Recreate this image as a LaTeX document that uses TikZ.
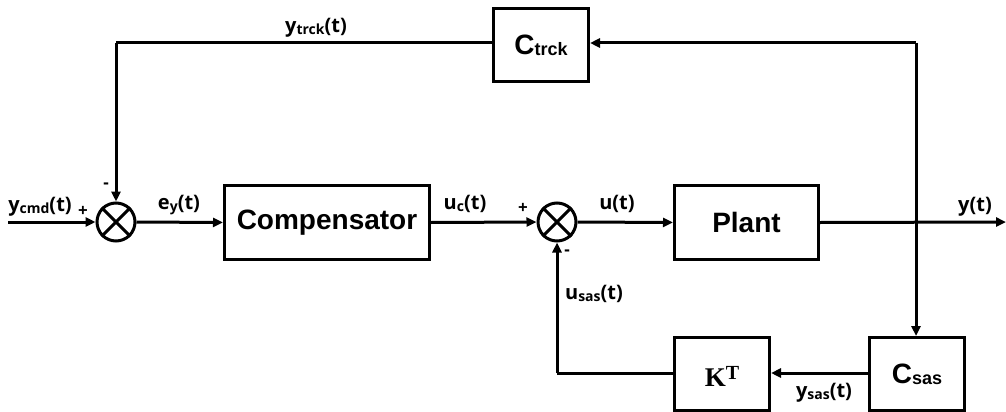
\documentclass[tikz,border=0pt]{standalone}
\usepackage{fontspec}
\usetikzlibrary{arrows.meta}
\newfontfamily\labfont{Open Sans}[UprightFont=* Bold]
\newfontfamily\boxfont{Liberation Sans}[UprightFont=* Bold]
\newfontfamily\serfont{Liberation Serif}[UprightFont=* Bold]
\newcommand{\lbl}[2]{{\labfont\fontsize{20}{22}\selectfont #1{\fontsize{14}{14}\selectfont\raisebox{-1.5pt}{#2}}(t)}}
\newcommand{\bxs}[2]{{\boxfont\fontsize{28}{30}\selectfont #1{\fontsize{18}{18}\selectfont\raisebox{-1pt}{#2}}}}
\tikzset{
  blk/.style={draw, line width=3pt, rectangle, inner sep=0pt, anchor=north west},
  sumj/.style={draw, line width=3pt, circle, minimum size=38pt, inner sep=0pt},
  wire/.style={line width=3pt},
  arw/.style={line width=3pt, -{Triangle[length=10pt,width=9pt]}},
  sgn/.style={font=\labfont\fontsize{17}{17}\selectfont, inner sep=0pt},
  lab/.style={inner sep=0pt}
}
\begin{document}
\begin{tikzpicture}[x=1pt,y=-1pt]
\useasboundingbox (0,0) rectangle (1006,412);
% blocks
\node[blk, minimum width=205pt, minimum height=74pt] (comp) at (223,184) {};
\node[font=\boxfont\fontsize{28}{30}\selectfont] at (comp.center) {Compensator};
\node[blk, minimum width=144pt, minimum height=74pt] (plant) at (673,184) {};
\node[font=\boxfont\fontsize{28}{30}\selectfont] at (plant.center) {Plant};
\node[blk, minimum width=95pt, minimum height=73pt] (ctrck) at (492,7) {};
\node at (ctrck.center) {\bxs{C}{trck}};
\node[blk, minimum width=95pt, minimum height=73pt] (kt) at (673,336) {};
\node at ([yshift=-2pt]kt.center) {\serfont\fontsize{27}{28}\selectfont K\raisebox{7pt}{\fontsize{20}{20}\selectfont T}};
\node[blk, minimum width=95pt, minimum height=73pt] (csas) at (868,336) {};
\node at (csas.center) {\bxs{C}{sas}};
% summing junctions
\node[sumj] (s1) at (116,222) {};
\draw[wire] (s1.north east) -- (s1.south west) (s1.north west) -- (s1.south east);
\node[sumj] (s2) at (557,222) {};
\draw[wire] (s2.north east) -- (s2.south west) (s2.north west) -- (s2.south east);
% coordinates
\coordinate (in) at (8,222);
\coordinate (out) at (1006,222);
\coordinate (tr) at (916,43);
\coordinate (tl) at (116,43);
\coordinate (bl) at (557,373);
% connectors
\draw[arw] (in) -- (s1.west);
\draw[arw] (s1.east) -- (comp.west);
\draw[arw] (comp.east) -- (s2.west);
\draw[arw] (s2.east) -- (plant.west);
\draw[arw] (plant.east) -- (out);
\draw[wire] (tr) -- (tr |- s1);
\draw[arw] (tr) -- (csas.north -| tr);
\draw[arw] (tr) -- (ctrck.east |- tr);
\draw[wire] (ctrck.west |- tl) -- (tl);
\draw[arw] (tl) -- (s1.north);
\draw[arw] (csas.west |- 0,373) -- (kt.east |- 0,373);
\draw[wire] (kt.west |- 0,373) -- (bl);
\draw[arw] (bl) -- (s2.south);
% labels
\node[lab] at (40,207) {\lbl{y}{cmd}};
\node[sgn] at (83,211) {+};
\node[sgn] at (106,186) {-};
\node[lab] at (179,205) {\lbl{e}{y}};
\node[lab] at (465,204) {\lbl{u}{c}};
\node[sgn] at (523,208) {+};
\node[sgn] at (567,253) {-};
\node[lab] at (617,204) {{\labfont\fontsize{20}{22}\selectfont u(t)}};
\node[lab] at (594,294) {\lbl{u}{sas}};
\node[lab] at (824,393) {\lbl{y}{sas}};
\node[lab] at (316,28) {\lbl{y}{trck}};
\node[lab] at (975,207) {{\labfont\fontsize{20}{22}\selectfont y(t)}};
\end{tikzpicture}
\end{document}
